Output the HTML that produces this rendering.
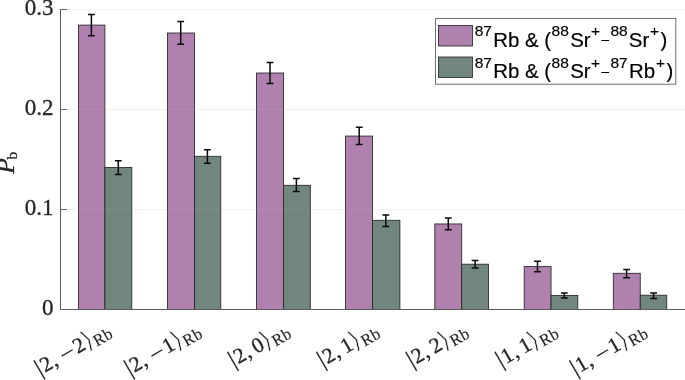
<!DOCTYPE html>
<html><head><meta charset="utf-8"><title>Chart</title>
<style>html,body{margin:0;padding:0;background:#fff}svg{display:block;will-change:transform}</style></head>
<body><svg width="685" height="380" viewBox="0 0 685 380">
<rect width="685" height="380" fill="#fff"/>
<line x1="60.5" y1="209.5" x2="685" y2="209.5" stroke="#f0f0f0" stroke-width="1"/>
<line x1="60.5" y1="109.5" x2="685" y2="109.5" stroke="#f0f0f0" stroke-width="1"/>
<line x1="60.5" y1="9.5" x2="685" y2="9.5" stroke="#f0f0f0" stroke-width="1"/>
<rect x="78.50" y="25.10" width="26.40" height="284.40" fill="#b080ae" stroke="#262626" stroke-width="0.85"/>
<rect x="104.90" y="167.40" width="26.90" height="142.10" fill="#70867e" stroke="#262626" stroke-width="0.85"/>
<rect x="167.50" y="33.00" width="27.00" height="276.50" fill="#b080ae" stroke="#262626" stroke-width="0.85"/>
<rect x="194.50" y="156.30" width="26.30" height="153.20" fill="#70867e" stroke="#262626" stroke-width="0.85"/>
<rect x="256.50" y="73.00" width="27.10" height="236.50" fill="#b080ae" stroke="#262626" stroke-width="0.85"/>
<rect x="283.60" y="185.30" width="26.70" height="124.20" fill="#70867e" stroke="#262626" stroke-width="0.85"/>
<rect x="345.45" y="136.05" width="27.15" height="173.45" fill="#b080ae" stroke="#262626" stroke-width="0.85"/>
<rect x="372.60" y="220.30" width="27.30" height="89.20" fill="#70867e" stroke="#262626" stroke-width="0.85"/>
<rect x="434.80" y="223.95" width="26.90" height="85.55" fill="#b080ae" stroke="#262626" stroke-width="0.85"/>
<rect x="461.70" y="264.20" width="26.85" height="45.30" fill="#70867e" stroke="#262626" stroke-width="0.85"/>
<rect x="524.20" y="266.60" width="26.85" height="42.90" fill="#b080ae" stroke="#262626" stroke-width="0.85"/>
<rect x="551.05" y="295.40" width="26.75" height="14.10" fill="#70867e" stroke="#262626" stroke-width="0.85"/>
<rect x="613.30" y="273.30" width="26.95" height="36.20" fill="#b080ae" stroke="#262626" stroke-width="0.85"/>
<rect x="640.25" y="295.20" width="26.50" height="14.30" fill="#70867e" stroke="#262626" stroke-width="0.85"/>
<path d="M91.40 14.50V35.70M88.00 14.50H94.80M88.00 35.70H94.80" stroke="#0a0a0a" stroke-width="1.5" fill="none"/>
<path d="M118.30 160.70V174.50M114.90 160.70H121.70M114.90 174.50H121.70" stroke="#0a0a0a" stroke-width="1.5" fill="none"/>
<path d="M180.70 21.40V44.20M177.30 21.40H184.10M177.30 44.20H184.10" stroke="#0a0a0a" stroke-width="1.5" fill="none"/>
<path d="M207.40 149.70V163.20M204.00 149.70H210.80M204.00 163.20H210.80" stroke="#0a0a0a" stroke-width="1.5" fill="none"/>
<path d="M270.00 62.60V83.40M266.60 62.60H273.40M266.60 83.40H273.40" stroke="#0a0a0a" stroke-width="1.5" fill="none"/>
<path d="M296.40 178.40V191.60M293.00 178.40H299.80M293.00 191.60H299.80" stroke="#0a0a0a" stroke-width="1.5" fill="none"/>
<path d="M359.20 127.20V144.60M355.80 127.20H362.60M355.80 144.60H362.60" stroke="#0a0a0a" stroke-width="1.5" fill="none"/>
<path d="M385.80 215.00V226.60M382.40 215.00H389.20M382.40 226.60H389.20" stroke="#0a0a0a" stroke-width="1.5" fill="none"/>
<path d="M448.30 217.90V229.70M444.90 217.90H451.70M444.90 229.70H451.70" stroke="#0a0a0a" stroke-width="1.5" fill="none"/>
<path d="M475.10 260.40V268.00M471.70 260.40H478.50M471.70 268.00H478.50" stroke="#0a0a0a" stroke-width="1.5" fill="none"/>
<path d="M537.50 261.30V271.70M534.10 261.30H540.90M534.10 271.70H540.90" stroke="#0a0a0a" stroke-width="1.5" fill="none"/>
<path d="M564.30 292.90V297.90M560.90 292.90H567.70M560.90 297.90H567.70" stroke="#0a0a0a" stroke-width="1.5" fill="none"/>
<path d="M626.60 269.40V277.70M623.20 269.40H630.00M623.20 277.70H630.00" stroke="#0a0a0a" stroke-width="1.5" fill="none"/>
<path d="M653.60 293.00V298.40M650.20 293.00H657.00M650.20 298.40H657.00" stroke="#0a0a0a" stroke-width="1.5" fill="none"/>
<line x1="60.5" y1="209.5" x2="685" y2="209.5" stroke="#fff" stroke-opacity="0.07" stroke-width="1"/>
<line x1="60.5" y1="109.5" x2="685" y2="109.5" stroke="#fff" stroke-opacity="0.07" stroke-width="1"/>
<path d="M60.5 9V309.5H685" stroke="#5a5a5a" stroke-width="1" fill="none"/>
<line x1="60.5" y1="309.5" x2="67.0" y2="309.5" stroke="#666" stroke-width="1"/>
<line x1="60.5" y1="209.5" x2="67.0" y2="209.5" stroke="#666" stroke-width="1"/>
<line x1="60.5" y1="109.5" x2="67.0" y2="109.5" stroke="#666" stroke-width="1"/>
<line x1="60.5" y1="9.5" x2="67.0" y2="9.5" stroke="#666" stroke-width="1"/>
<g font-family="Liberation Serif, serif" font-size="23" fill="#262626" stroke="#262626" stroke-width="0.3" text-anchor="end">
<text x="53.6" y="315.2">0</text>
<text x="53.6" y="215.2">0.1</text>
<text x="53.6" y="115.2">0.2</text>
<text x="53.6" y="15.2">0.3</text>
</g>
<text transform="translate(14,173.8) rotate(-90)" font-family="Liberation Serif, serif" font-size="25.5" fill="#262626" stroke="#262626" stroke-width="0.3"><tspan font-style="italic">P</tspan><tspan font-size="15.5" dy="3.4" dx="-1.2">b</tspan></text>
<text transform="translate(111.90,334.2) rotate(-30)" text-anchor="middle" font-family="Liberation Serif, serif" font-size="21.5" fill="#262626" stroke="#262626" stroke-width="0.35"><tspan x="-80.52" y="0.5" font-size="24" stroke-width="0.2">|</tspan><tspan x="-71.96" y="0">2</tspan><tspan x="-63.41" y="0">,</tspan><tspan x="-48.12" y="2.9" font-size="27" stroke-width="0">−</tspan><tspan x="-34.06" y="0">2</tspan><tspan x="-24.28" y="1.0" font-family="DejaVu Sans, sans-serif" font-size="25" stroke="#fff" stroke-width="0.55">⟩</tspan><tspan x="-9.20" y="3.3" font-size="16.5" letter-spacing="0.3" stroke-width="0.15">Rb</tspan></text>
<text transform="translate(201.50,334.2) rotate(-30)" text-anchor="middle" font-family="Liberation Serif, serif" font-size="21.5" fill="#262626" stroke="#262626" stroke-width="0.35"><tspan x="-80.52" y="0.5" font-size="24" stroke-width="0.2">|</tspan><tspan x="-71.96" y="0">2</tspan><tspan x="-63.41" y="0">,</tspan><tspan x="-48.12" y="2.9" font-size="27" stroke-width="0">−</tspan><tspan x="-34.06" y="0">1</tspan><tspan x="-24.28" y="1.0" font-family="DejaVu Sans, sans-serif" font-size="25" stroke="#fff" stroke-width="0.55">⟩</tspan><tspan x="-9.20" y="3.3" font-size="16.5" letter-spacing="0.3" stroke-width="0.15">Rb</tspan></text>
<text transform="translate(290.60,334.2) rotate(-30)" text-anchor="middle" font-family="Liberation Serif, serif" font-size="21.5" fill="#262626" stroke="#262626" stroke-width="0.35"><tspan x="-63.41" y="0.5" font-size="24" stroke-width="0.2">|</tspan><tspan x="-54.85" y="0">2</tspan><tspan x="-46.29" y="0">,</tspan><tspan x="-34.06" y="0">0</tspan><tspan x="-24.28" y="1.0" font-family="DejaVu Sans, sans-serif" font-size="25" stroke="#fff" stroke-width="0.55">⟩</tspan><tspan x="-9.20" y="3.3" font-size="16.5" letter-spacing="0.3" stroke-width="0.15">Rb</tspan></text>
<text transform="translate(379.60,334.2) rotate(-30)" text-anchor="middle" font-family="Liberation Serif, serif" font-size="21.5" fill="#262626" stroke="#262626" stroke-width="0.35"><tspan x="-63.41" y="0.5" font-size="24" stroke-width="0.2">|</tspan><tspan x="-54.85" y="0">2</tspan><tspan x="-46.29" y="0">,</tspan><tspan x="-34.06" y="0">1</tspan><tspan x="-24.28" y="1.0" font-family="DejaVu Sans, sans-serif" font-size="25" stroke="#fff" stroke-width="0.55">⟩</tspan><tspan x="-9.20" y="3.3" font-size="16.5" letter-spacing="0.3" stroke-width="0.15">Rb</tspan></text>
<text transform="translate(468.70,334.2) rotate(-30)" text-anchor="middle" font-family="Liberation Serif, serif" font-size="21.5" fill="#262626" stroke="#262626" stroke-width="0.35"><tspan x="-63.41" y="0.5" font-size="24" stroke-width="0.2">|</tspan><tspan x="-54.85" y="0">2</tspan><tspan x="-46.29" y="0">,</tspan><tspan x="-34.06" y="0">2</tspan><tspan x="-24.28" y="1.0" font-family="DejaVu Sans, sans-serif" font-size="25" stroke="#fff" stroke-width="0.55">⟩</tspan><tspan x="-9.20" y="3.3" font-size="16.5" letter-spacing="0.3" stroke-width="0.15">Rb</tspan></text>
<text transform="translate(558.05,334.2) rotate(-30)" text-anchor="middle" font-family="Liberation Serif, serif" font-size="21.5" fill="#262626" stroke="#262626" stroke-width="0.35"><tspan x="-63.41" y="0.5" font-size="24" stroke-width="0.2">|</tspan><tspan x="-54.85" y="0">1</tspan><tspan x="-46.29" y="0">,</tspan><tspan x="-34.06" y="0">1</tspan><tspan x="-24.28" y="1.0" font-family="DejaVu Sans, sans-serif" font-size="25" stroke="#fff" stroke-width="0.55">⟩</tspan><tspan x="-9.20" y="3.3" font-size="16.5" letter-spacing="0.3" stroke-width="0.15">Rb</tspan></text>
<text transform="translate(647.25,334.2) rotate(-30)" text-anchor="middle" font-family="Liberation Serif, serif" font-size="21.5" fill="#262626" stroke="#262626" stroke-width="0.35"><tspan x="-80.52" y="0.5" font-size="24" stroke-width="0.2">|</tspan><tspan x="-71.96" y="0">1</tspan><tspan x="-63.41" y="0">,</tspan><tspan x="-48.12" y="2.9" font-size="27" stroke-width="0">−</tspan><tspan x="-34.06" y="0">1</tspan><tspan x="-24.28" y="1.0" font-family="DejaVu Sans, sans-serif" font-size="25" stroke="#fff" stroke-width="0.55">⟩</tspan><tspan x="-9.20" y="3.3" font-size="16.5" letter-spacing="0.3" stroke-width="0.15">Rb</tspan></text>
<rect x="435.5" y="18.5" width="240.3" height="65.7" fill="#fff" stroke="#707070" stroke-width="1"/>
<rect x="438.5" y="25.5" width="34" height="20.5" fill="#b080ae" stroke="#333" stroke-width="0.9"/>
<rect x="438.5" y="57" width="34" height="20.5" fill="#70867e" stroke="#333" stroke-width="0.9"/>
<text font-family="Liberation Sans, sans-serif" fill="#000" stroke="#000" stroke-width="0.2"><tspan x="474.7" y="36.1" font-size="15.5">87</tspan><tspan x="493.3" y="46.5" font-size="20.4">Rb &amp; (</tspan><tspan x="551.6" y="36.1" font-size="15.5">88</tspan><tspan x="570.2" y="46.5" font-size="20.4">Sr</tspan><tspan x="590.9" y="36.1" font-size="15.5">+</tspan><tspan x="610.4" y="36.1" font-size="15.5">88</tspan><tspan x="628.8" y="46.5" font-size="20.4">Sr</tspan><tspan x="650" y="36.1" font-size="15.5">+</tspan><tspan x="660.4" y="46.5" font-size="20.4">)</tspan></text>
<text font-family="Liberation Sans, sans-serif" fill="#000" stroke="#000" stroke-width="0.2"><tspan x="474.7" y="67.5" font-size="15.5">87</tspan><tspan x="493.3" y="77.9" font-size="20.4">Rb &amp; (</tspan><tspan x="551.6" y="67.5" font-size="15.5">88</tspan><tspan x="570.2" y="77.9" font-size="20.4">Sr</tspan><tspan x="590.9" y="67.5" font-size="15.5">+</tspan><tspan x="610.4" y="67.5" font-size="15.5">87</tspan><tspan x="629.1" y="77.9" font-size="20.4">Rb</tspan><tspan x="655.9" y="67.5" font-size="15.5">+</tspan><tspan x="666.4" y="77.9" font-size="20.4">)</tspan></text>
<text x="601.3" y="44.1" font-family="Liberation Sans, sans-serif" font-size="14" fill="#000">–</text>
<text x="601.3" y="75.5" font-family="Liberation Sans, sans-serif" font-size="14" fill="#000">–</text>
</svg></body></html>
